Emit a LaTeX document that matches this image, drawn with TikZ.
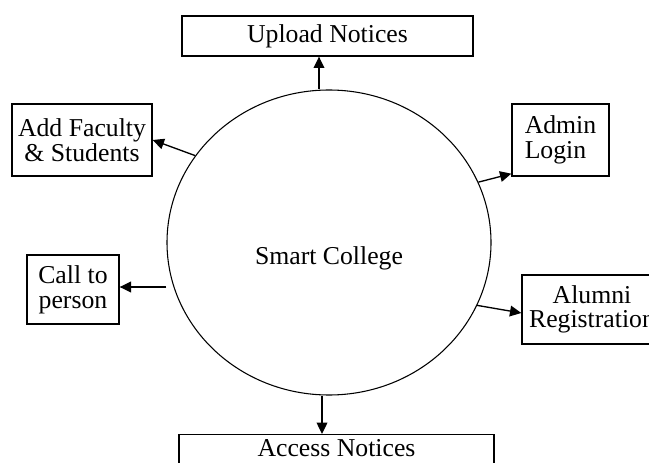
\documentclass[tikz,border=0pt]{standalone}
\usepackage{fontspec}
\setmainfont{Liberation Serif}
\usetikzlibrary{shapes.geometric,arrows.meta,calc}
\def\px{0.75pt}
\begin{document}
\begin{tikzpicture}[x=0.75pt,y=-0.75pt,
  txt/.style={font=\fontsize{19.3}{18.5}\selectfont},
  box/.style={draw,line width=1pt,inner sep=0pt,align=center,txt},
  arr/.style={line width=1pt,-{Triangle[length=8.5pt,width=8pt]}},
]
\useasboundingbox (0,0) rectangle (649,463);
\node[draw,ellipse,line width=0.8pt,minimum width=324*\px,minimum height=305*\px,inner sep=0pt] (sc) at (329,242.5) {};
\node[txt] (sctext) at (329,258) {Smart College};
\node[box,minimum width=291*\px,minimum height=40*\px] (up) at (327.5,36) {Upload Notices};
\node[box,minimum width=140*\px,minimum height=72*\px] (af) at (82,140) {Add Faculty\\\& Students};
\node[box,minimum width=97*\px,minimum height=72*\px,align=left] (al) at (560.5,140) {Admin\\Login};
\node[box,minimum width=92*\px,minimum height=69*\px] (cp) at (73,289.5) {Call to\\person};
\node[box,minimum width=140*\px,minimum height=69*\px] (ar) at (592,309.5) {Alumni\\Registration};
\node[box,anchor=north,minimum width=315*\px,text height=17.5*\px,text depth=5*\px,inner ysep=4*\px] (an) at (336.5,434) {Access Notices};
\draw[arr] ($(sc.north)+(-10,0)$) coordinate (t1) -- (t1 |- up.south);
\draw[arr] ($(sc.south)+(-7,0)$) coordinate (b1) -- (b1 |- an.north);
\draw[arr] (sc.147) -- (af.east);
\draw[arr] (sc.22) -- ($(al.south west)+(0,-3)$);
\draw[arr] (sc.-23) -- ($(ar.west)+(0,3.5)$);
\coordinate (cpin) at ($(cp.east)+(0,-2.5)$);
\draw[arr] (sc.west |- cpin) -- (cpin);
\end{tikzpicture}
\end{document}
